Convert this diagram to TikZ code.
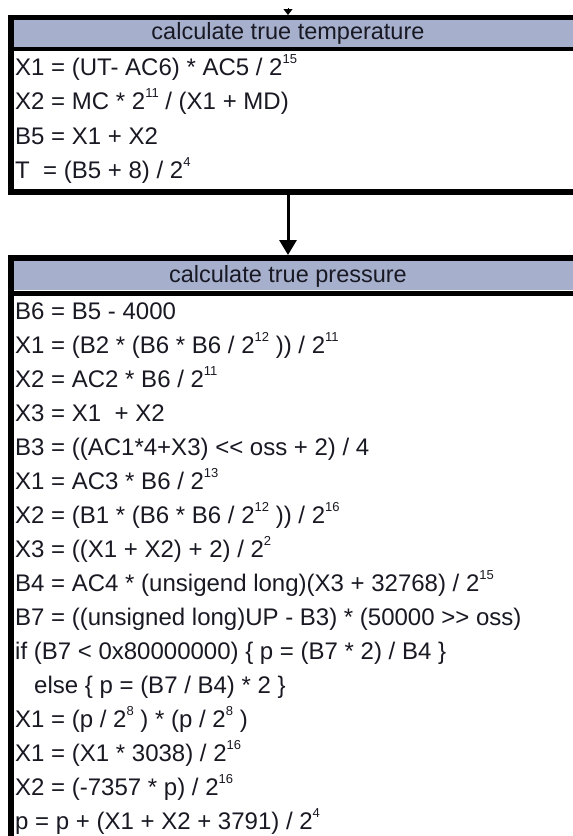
\documentclass[tikz,border=0pt]{standalone}
\usepackage{fontspec}
\setmainfont{Liberation Sans}
\usepackage{tikz}
\usetikzlibrary{arrows.meta,positioning,calc}
\definecolor{bandblue}{RGB}{166,176,205}
\definecolor{inkdark}{RGB}{25,25,35}
\newcommand{\pw}[1]{\raisebox{12pt}{\fontsize{13}{13}\selectfont #1}}

\begin{document}
\begin{tikzpicture}[x=1pt,y=-1pt,
  frame/.style={draw=black,line width=6pt,fill=white,anchor=north west,inner sep=0pt},
  band/.style={fill=bandblue,anchor=north west,inner sep=0pt,minimum width=600pt},
  eqline/.style={anchor=base west,inner sep=0pt,font=\fontsize{24}{24}\selectfont,text=inkdark},
  headtext/.style={inner sep=0pt,font=\fontsize{23.5}{23.5}\selectfont,text=inkdark},
  flow/.style={line width=3pt,-{Triangle[width=17pt,length=15pt]}}]
\useasboundingbox (0,0) rectangle (573,836);
\clip (0,0) rectangle (573,836);
\fill[white] (0,0) rectangle (573,836);
\node[frame,minimum width=594pt,minimum height=174pt] (tempbox) at (8,15) {};
\node[band,minimum height=27pt] (temphead) at (14,20) {};
\draw[line width=4pt] (11,48.5) -- (605,48.5);
\node[headtext] (templabel) at (288,33.5) {calculate true temperature};
\foreach \t [count=\i] in {{X1 = (UT- AC6) * AC5 / 2\pw{15}},{X2 = MC * 2\pw{11} / (X1 + MD)},{B5 = X1 + X2},{T~ = (B5 + 8) / 2\pw{4}}}{
  \node[eqline] (temp\i) at (15,{75.5+34.3*(\i-1)}) {\t};
}
\node[frame,minimum width=594pt,minimum height=700pt] (presbox) at (8,255) {};
\node[band,minimum height=29pt] (preshead) at (14,261) {};
\draw[line width=5pt] (11,293) -- (605,293);
\node[headtext] (preslabel) at (288,276) {calculate true pressure};
\foreach \t [count=\i] in {{B6 = B5 - 4000},{X1 = (B2 * (B6 * B6 / 2\pw{12} )) / 2\pw{11}},{X2 = AC2 * B6 / 2\pw{11}},{X3 = X1~ + X2},
  {B3 = ((AC1*4+X3) <{}< oss + 2) / 4},{X1 = AC3 * B6 / 2\pw{13}},{X2 = (B1 * (B6 * B6 / 2\pw{12} )) / 2\pw{16}},{X3 = ((X1 + X2) + 2) / 2\pw{2}},
  {B4 = AC4 * (unsigend long)(X3 + 32768) / 2\pw{15}},{B7 = ((unsigned long)UP - B3) * (50000 >{}> oss)},{if (B7 < 0x80000000) \{ p = (B7 * 2) / B4 \}},
  {\hspace*{19pt}else \{ p = (B7 / B4) * 2 \}},{X1 = (p / 2\pw{8} ) * (p / 2\pw{8} )},{X1 = (X1 * 3038) / 2\pw{16}},{X2 = (-7357 * p) / 2\pw{16}},{p = p + (X1 + X2 + 3791) / 2\pw{4}}}{
  \node[eqline] (pres\i) at (15,{319.5+34*(\i-1)}) {\t};
}
\coordinate (feedin) at (288,8);
\draw[line width=1pt,-{Triangle[width=9pt,length=6pt]}] (feedin) -- (tempbox.north -| templabel);
\draw[flow] (tempbox.south -| templabel) -- (presbox.north -| templabel);
\end{tikzpicture}
\end{document}
